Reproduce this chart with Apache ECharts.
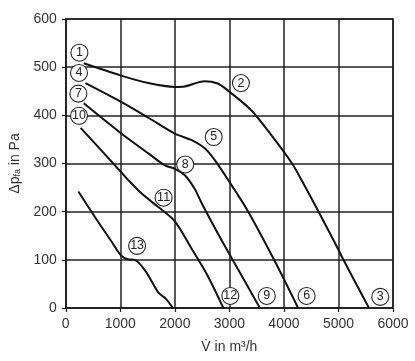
<!DOCTYPE html>
<html>
<head>
<meta charset="utf-8">
<script src="https://cdn.jsdelivr.net/npm/echarts@6/dist/echarts.min.js"></script>
<style>html,body{margin:0;padding:0;background:#fff;}#c{width:415px;height:361px;}</style>
</head>
<body>
<div id="c"></div>
<script>
// Fan curves (V in m3/h, dp in Pa)
const curve1_2_3 = [[330,508],[1000,483],[1515,467],[2000,459],[2180,460],[2543,471],[2787,466],[3000,449],[3396,411],[3762,360],[4150,300],[4340,262],[4636,200],[5000,121],[5091,100],[5560,0]];
const curve4_5_6 = [[360,467],[1000,429],[1515,395],[2000,362],[2300,349],[2543,332],[2726,308],[3000,262],[3330,203],[3820,100],[4260,0]];
const curve7_8_9 = [[330,425],[1000,364],[1515,321],[1818,296],[2000,289],[2180,276],[2360,248],[2500,216],[2850,142],[3030,106],[3560,0]];
const curve10_11_12 = [[273,374],[1000,284],[1143,266],[1387,238],[1691,210],[2000,180],[2303,124],[2606,66],[2890,0]];
const curve13 = [[231,242],[535,189],[839,138],[1022,108],[1150,101],[1265,100],[1447,79],[1691,33],[1760,26],[1830,20],[1965,0]];
const circleLabels = [
  [250,530,'1'],[243,488,'4'],[231,445,'7'],[243,399,'10'],
  [3212,467,'2'],[2713,355,'5'],[2190,298,'8'],[1794,229,'11'],[1308,129,'13'],
  [3017,25,'12'],[3686,25,'9'],[4416,25,'6'],[5766,23,'3']
];
const xTicks = [0,1000,2000,3000,4000,5000,6000];
const yTicks = [0,100,200,300,400,500,600];

const chart = echarts.init(document.getElementById('c'));
const lineStyle = {color:'#111', width:2};
const mk = d => ({type:'line', data:d, smooth:0.3, showSymbol:false, lineStyle:lineStyle, silent:true, z:3});
chart.setOption({
  animation:false,
  backgroundColor:'#fff',
  grid:{left:64, right:22, top:19, bottom:53, show:true, borderColor:'#222', borderWidth:1.5},
  xAxis:{type:'value', min:xTicks[0], max:xTicks[xTicks.length-1], interval:1000,
    name:'V\u0307 in m\u00B3/h', nameLocation:'middle', nameGap:32,
    nameTextStyle:{fontFamily:'Liberation Sans', fontSize:14, color:'#333'},
    axisLine:{show:true, lineStyle:{color:'#222', width:1.5}},
    axisTick:{show:true, length:4, lineStyle:{color:'#222', width:1.2}},
    axisLabel:{fontFamily:'Liberation Sans', fontSize:14, color:'#333', margin:9, formatter:v=>String(v)},
    splitLine:{show:true, lineStyle:{color:'#222', width:1.5}}},
  yAxis:{type:'value', min:yTicks[0], max:yTicks[yTicks.length-1], interval:100,
    name:'{a|\u0394p}{s|fa}{a| in Pa}', nameLocation:'middle', nameGap:40,
    nameTextStyle:{fontFamily:'Liberation Sans', fontSize:14, color:'#333',
      rich:{a:{fontFamily:'Liberation Sans', fontSize:14, color:'#333'}, s:{fontFamily:'Liberation Sans', fontSize:9, color:'#333', verticalAlign:'bottom', padding:[6,0,0,0]}}},
    axisLine:{show:true, lineStyle:{color:'#222', width:1.5}},
    axisTick:{show:true, length:4, lineStyle:{color:'#222', width:1.2}},
    axisLabel:{fontFamily:'Liberation Sans', fontSize:14, color:'#333', margin:9, formatter:v=>String(v)},
    splitLine:{show:true, lineStyle:{color:'#222', width:1.5}}},
  series:[
    mk(curve1_2_3), mk(curve4_5_6), mk(curve7_8_9), mk(curve10_11_12), mk(curve13),
    {type:'scatter', data:circleLabels, symbol:'circle', symbolSize:17, z:5,
     itemStyle:{color:'#fff', borderColor:'#222', borderWidth:1.1, opacity:1},
     label:{show:true, position:'inside', formatter:p=>p.value[2], fontFamily:'Liberation Sans', fontSize:12.5, color:'#222'}}
  ]
});
</script>
</body>
</html>
